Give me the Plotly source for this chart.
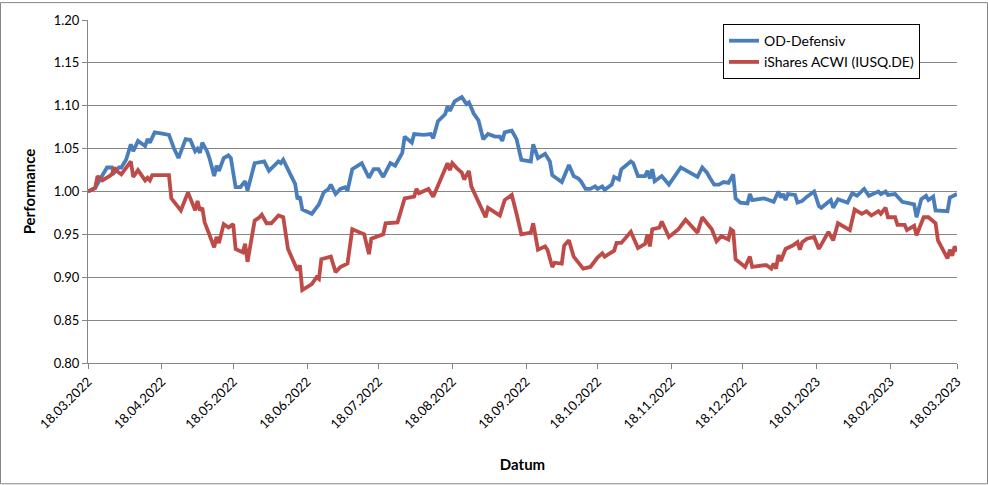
import plotly.graph_objects as go
import pandas as pd

start_date = "2022-03-18"

# Days since 18.03.2022 and performance values
od_days = [0, 3, 5, 8, 10, 11, 13, 14, 16, 18, 19, 21, 24, 25, 26, 28, 30, 34, 36, 38, 41, 43, 45, 46, 47, 48, 50, 51,
           53, 54, 55, 57, 59, 60, 62, 64, 66, 67, 70, 74, 76, 80, 81, 82, 85, 87, 88, 89, 90, 94, 97, 99, 101, 102,
           104, 106, 108, 109, 111, 115, 118, 120, 122, 124, 127, 129, 132, 133, 136, 137, 141, 144, 145, 147, 150,
           151, 152, 154, 157, 159, 160, 162, 164, 166, 168, 171, 173, 174, 175, 178, 180, 182, 186, 187, 189, 192,
           194, 195, 199, 202, 204, 206, 207, 209, 211, 213, 214, 216, 217, 220, 221, 223, 224, 228, 229, 231, 234,
           235, 236, 237, 238, 241, 244, 249, 251, 256, 258, 260, 261, 263, 265, 267, 269, 271, 272, 274, 277, 278,
           279, 284, 286, 288, 290, 291, 292, 293, 294, 297, 298, 300, 302, 305, 307, 308, 312, 313, 315, 319, 321,
           323, 326, 328, 332, 333, 335, 336, 339, 342, 347, 348, 350, 352, 353, 355, 356, 361, 362, 365]
od_values = [1.000, 1.004, 1.014, 1.028, 1.028, 1.022, 1.028, 1.028, 1.037, 1.055, 1.047, 1.059, 1.053, 1.061, 1.057,
             1.069, 1.068, 1.066, 1.051, 1.039, 1.061, 1.060, 1.047, 1.050, 1.045, 1.057, 1.047, 1.039,
             1.018, 1.030, 1.024, 1.039, 1.042, 1.039, 1.005, 1.005, 1.012, 1.001, 1.033, 1.035, 1.024, 1.035, 1.033,
             1.037, 1.020, 1.009, 0.991, 0.994, 0.979, 0.974, 0.985, 0.999, 1.003, 1.008,
             0.997, 1.003, 1.005, 1.001, 1.026, 1.033, 1.016, 1.026, 1.026, 1.017, 1.033, 1.030, 1.045, 1.064, 1.057,
             1.067, 1.066, 1.067, 1.062, 1.082, 1.090,
             1.099, 1.094, 1.105, 1.110, 1.102, 1.104, 1.091, 1.083, 1.061, 1.067, 1.064, 1.064, 1.059, 1.069, 1.071,
             1.061, 1.037, 1.035, 1.055, 1.039, 1.044,
             1.035, 1.019, 1.011, 1.031, 1.018, 1.015, 1.012, 1.003, 1.003, 1.006, 1.003, 1.006, 1.002, 1.008, 1.017,
             1.014, 1.026, 1.035, 1.033, 1.018, 1.018,
             1.024, 1.015, 1.026, 1.012, 1.018, 1.008, 1.028, 1.025, 1.017, 1.028, 1.022, 1.017, 1.008, 1.008, 1.011,
             1.010, 1.020, 0.992, 0.987, 0.986, 0.997,
             0.990, 0.992, 0.990, 0.988, 1.000, 0.993, 0.997, 0.990, 0.997, 0.996, 0.987, 0.989, 0.994, 1.000, 0.983,
             0.981, 0.990, 0.981, 0.991, 0.987, 0.998,
             0.995, 1.003, 0.995, 1.000, 0.997, 1.000, 0.996, 0.997, 0.988, 0.985, 0.970, 0.991, 0.995, 0.990, 0.994,
             0.978, 0.977, 0.993, 0.997]

acwi_days = [0, 3, 4, 6, 9, 10, 11, 12, 14, 18, 19, 21, 24, 25, 26, 27, 34, 35, 39, 42, 45, 46, 47, 48, 49, 51, 53,
             54, 55, 57, 59, 61, 62, 65, 66, 67, 70, 72, 73, 75, 77, 80, 82, 84, 88, 89, 90, 94, 96, 97, 98, 102, 104,
             106, 109, 111, 116, 118, 119, 124, 125, 130, 133, 137, 138, 139, 143, 145, 148, 151, 152, 153, 155, 157,
             158, 160, 161, 164, 167, 168, 173, 175, 178, 180, 182, 186, 187, 189, 192, 193, 195, 196, 199, 200, 202,
             204, 206, 208, 211, 214, 216, 217, 221, 222, 224, 228, 231, 234, 235, 236, 237, 240, 241, 244, 248, 251,
             256, 258, 262, 264, 266, 269, 270, 271, 272, 276, 278, 279, 284, 285, 287, 288, 289, 290, 291, 293, 296,
             298, 299, 300, 302, 305, 307, 311, 313, 315, 320, 322, 325, 327, 329, 332, 333, 335, 336, 339, 340, 343,
             344, 347, 348, 351, 353, 355, 356, 357, 361, 362, 363, 364, 365]
acwi_values = [1.000, 1.004, 1.018, 1.013, 1.018, 1.020, 1.028, 1.024, 1.020, 1.035, 1.017, 1.025, 1.013, 1.016,
               1.013, 1.019, 1.019, 0.992, 0.978, 0.999, 0.978, 0.989, 0.978, 0.981, 0.964, 0.949, 0.935,
               0.947, 0.940, 0.962, 0.958, 0.962, 0.933, 0.929, 0.939, 0.918, 0.966, 0.970, 0.973, 0.963, 0.963,
               0.972, 0.970, 0.933, 0.908, 0.914, 0.885, 0.892, 0.900, 0.898, 0.921, 0.924, 0.906,
               0.912, 0.916, 0.956, 0.950, 0.927, 0.945, 0.950, 0.963, 0.964, 0.992, 0.994, 1.003, 0.998, 1.003,
               0.994, 1.015, 1.033, 1.025, 1.033, 1.027, 1.022,
               1.014, 1.024, 1.006, 0.987, 0.970, 0.981, 0.972, 0.990, 0.996, 0.974, 0.950, 0.952, 0.963, 0.932,
               0.936, 0.932, 0.912, 0.917, 0.916, 0.937, 0.943,
               0.924, 0.917, 0.910, 0.912, 0.923, 0.928, 0.924, 0.931, 0.940, 0.940, 0.953, 0.934, 0.939, 0.950,
               0.936, 0.956, 0.958, 0.965, 0.947, 0.956, 0.967,
               0.952, 0.970, 0.956, 0.942, 0.948, 0.944, 0.956, 0.954, 0.921, 0.912, 0.924, 0.912, 0.914, 0.914,
               0.910, 0.916, 0.910, 0.926, 0.919, 0.933, 0.937,
               0.941, 0.932, 0.941, 0.945, 0.947, 0.933, 0.953, 0.943, 0.963, 0.955, 0.979, 0.974, 0.977, 0.972,
               0.977, 0.974, 0.981, 0.970, 0.970, 0.961, 0.961,
               0.955, 0.960, 0.949, 0.970, 0.970, 0.965, 0.963, 0.943, 0.922, 0.932, 0.925, 0.936, 0.930]

tick_dates = ["2022-03-18", "2022-04-18", "2022-05-18", "2022-06-18", "2022-07-18", "2022-08-18", "2022-09-18",
              "2022-10-18", "2022-11-18", "2022-12-18", "2023-01-18", "2023-02-18", "2023-03-18"]
tick_labels = ["18.03.2022", "18.04.2022", "18.05.2022", "18.06.2022", "18.07.2022", "18.08.2022", "18.09.2022",
               "18.10.2022", "18.11.2022", "18.12.2022", "18.01.2023", "18.02.2023", "18.03.2023"]

series_names = ["OD-Defensiv", "iShares ACWI (IUSQ.DE)"]

base = pd.Timestamp(start_date)
od_dates = [base + pd.Timedelta(days=d) for d in od_days]
acwi_dates = [base + pd.Timedelta(days=d) for d in acwi_days]

FONT = "Lato, Carlito, Calibri, sans-serif"
GRID = "#868686"

fig = go.Figure()
fig.add_trace(go.Scatter(x=od_dates, y=od_values, mode="lines", name=series_names[0],
                         line=dict(color="#4A7EBB", width=3.8)))
fig.add_trace(go.Scatter(x=acwi_dates, y=acwi_values, mode="lines", name=series_names[1],
                         line=dict(color="#BE4B48", width=3.8)))

fig.update_layout(
    width=988, height=485,
    margin=dict(l=88, r=31, t=18, b=122),
    paper_bgcolor="white", plot_bgcolor="white",
    font=dict(family=FONT, size=13, color="black"),
    showlegend=True,
    legend=dict(x=0.7307, y=0.988, xanchor="left", yanchor="top",
                bgcolor="white", bordercolor="black", borderwidth=1,
                font=dict(family=FONT, size=14, color="black"),
                tracegroupgap=6, itemwidth=30),
    xaxis=dict(type="date", range=[tick_dates[0], tick_dates[-1]],
               tickmode="array", tickvals=tick_dates, ticktext=tick_labels,
               tickangle=-45, ticks="outside", ticklen=5, tickcolor=GRID,
               showline=True, linecolor=GRID, linewidth=1, showgrid=False, zeroline=False,
               tickfont=dict(family=FONT, size=13, color="black"),
               title=dict(text="<b>Datum</b>", font=dict(family=FONT, size=15, color="black"), standoff=28)),
    yaxis=dict(range=[0.8, 1.2], dtick=0.05, tick0=0.8, tickformat=".2f",
               ticks="outside", ticklen=5, tickcolor=GRID,
               showline=True, linecolor=GRID, linewidth=1,
               showgrid=True, gridcolor=GRID, gridwidth=1, zeroline=False,
               tickfont=dict(family=FONT, size=13, color="black"),
               title=dict(text="<b>Performance</b>", font=dict(family=FONT, size=15, color="black"), standoff=14)),
)

# outer chart-area border
fig.add_shape(type="rect", xref="paper", yref="paper",
              x0=-87.5 / 869, x1=899.5 / 869, y0=-121.5 / 345, y1=362.5 / 345,
              line=dict(color=GRID, width=1), fillcolor="rgba(0,0,0,0)", layer="below")

fig.write_html("out.html", config={"displayModeBar": False},
               post_script="document.body.style.margin='0';document.body.style.padding='0';")
